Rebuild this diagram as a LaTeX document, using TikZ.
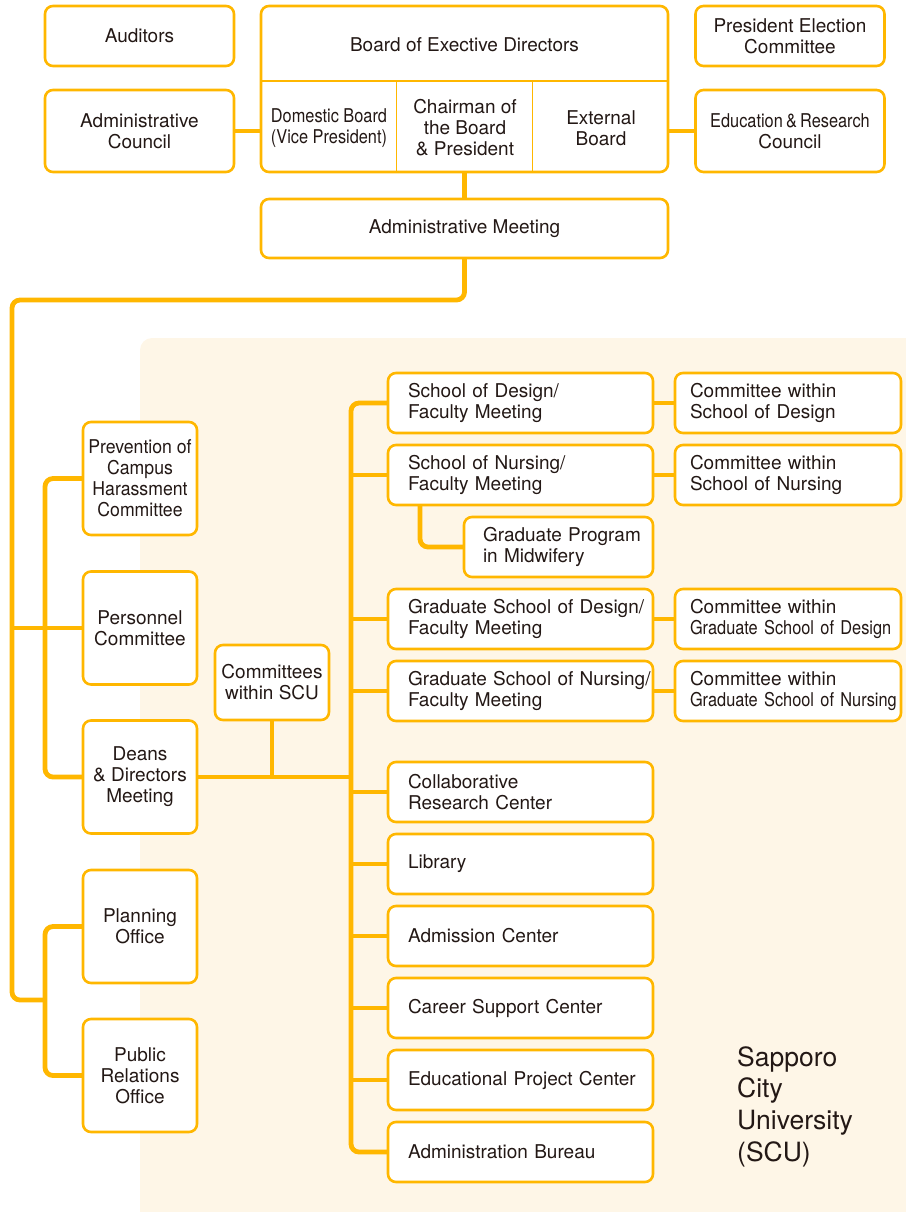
\documentclass[tikz,border=0pt]{standalone}
\usepackage{fontspec}
\setmainfont{TeX Gyre Heros}
\newfontfamily\cnd[FakeStretch=0.86]{TeX Gyre Heros}
\newfontfamily\tight[FakeStretch=0.93]{TeX Gyre Heros}
\usetikzlibrary{calc,positioning}
\definecolor{amber}{RGB}{255,183,0}
\definecolor{cream}{RGB}{254,246,231}
\definecolor{ink}{RGB}{35,24,21}
\newdimen\hdim
\newdimen\wdim
\newdimen\odim
\hdim=60pt
\wdim=265pt
\odim=22pt
\tikzstyle{unit}=[
  draw=amber,
  fill=white,
  font={\fontsize{19}{21}\selectfont},
  inner sep=0pt,
  outer sep=0pt,
  line width=2.6pt,
  rectangle,
  rounded corners=8pt,
  align=center,
  text=ink,
]
\tikzstyle{square}=[
  unit,
  minimum width=114pt,
  minimum height=113pt,
]
\tikzstyle{wide}=[
  unit,
  minimum width=189pt,
]
\tikzstyle{dept}=[
  unit,
  align=left,
  inner xsep=20pt,
  text width=\wdim-40pt,
  minimum height=\hdim,
]
\tikzstyle{sub}=[
  unit,
  align=left,
  inner xsep=15pt,
  text width=196pt,
  minimum height=\hdim,
]
\tikzstyle{boardtext}=[
  align=center,
  font={\fontsize{19}{21}\selectfont},
  text=ink,
]
\tikzstyle{link}=[
  draw=amber,
  line width=4.8pt,
  rounded corners=8pt,
]
\tikzstyle{split}=[
  draw=amber,
  line width=1.6pt,
]
\tikzset{
  node distance=12pt,
}

\begin{document}
\begin{tikzpicture}[x=1pt,y=-1pt]
    \useasboundingbox (0,0) rectangle (905,1212);
    \fill [cream, rounded corners=12pt] (140,338) rectangle (940,1250);
    %%
    \node (auditors) [wide, minimum height=60pt] at (139.5,36) {Auditors};
    \node (council) [wide, minimum height=82pt] at (139.5,131) {Administrative\\Council};
    \node (board) [unit, minimum width=407pt, minimum height=166pt] at (464.5,89) {};
    \node (election) [wide, minimum height=60pt] at (790,36) {President Election\\Committee};
    \node (edu) [wide, minimum height=82pt] at (790,131) {{\cnd Education\,\&\,Research}\\Council};
    \node (meeting) [unit, minimum width=407pt, minimum height=59pt] at (464.5,228.5) {Administrative Meeting};
    %%
    \coordinate (split) at (0,81);
    \coordinate (c1) at ($(board.south west)!1/3!(board.south east)$);
    \coordinate (c2) at ($(board.south west)!2/3!(board.south east)$);
    \draw [split] (board.west |- split) -- (board.east |- split);
    \draw [split] (c1) -- (c1 |- split);
    \draw [split] (c2) -- (c2 |- split);
    \node (title) [boardtext] at (464.5,45) {Board of Exective Directors};
    \node (domestic) [boardtext] at (329,128) {{\cnd Domestic Board}\\{\cnd(Vice President)}};
    \node (chairman) [boardtext] at (465,128) {Chairman of\\the Board\\\& President};
    \node (external) [boardtext] at (601,128) {External\\Board};
    %%
    \node (prevention) [square, font={\tight\fontsize{19}{21}\selectfont}] at (140,478.5) {Prevention of\\Campus\\Harassment\\Committee};
    \node (personnel) [square] at (140,628) {Personnel\\Committee};
    \node (deans) [square] at (140,777) {Deans\\\& Directors\\Meeting};
    \node (planning) [square] at (140,926.5) {Planning\\Office};
    \node (relations) [square] at (140,1075.5) {Public\\Relations\\Office};
    \node (scucomm) [unit, minimum width=114pt, minimum height=75pt] at (272,682.5) {Committees\\within SCU};
    %%
    \node (design) [dept] at (520.5,403) {School of Design/\\Faculty Meeting};
    \node (nursing) [dept, below=of design] {School of Nursing/\\Faculty Meeting};
    \node (midwifery) [dept, text width=151pt, inner xsep=19pt, below=of nursing.south east, anchor=north east] {\mbox{Graduate Program}\\in Midwifery};
    \node (graddesign) [dept, below=84pt of nursing] {\mbox{Graduate School of Design/}\\Faculty Meeting};
    \node (gradnursing) [dept, below=of graddesign] {\mbox{Graduate School of Nursing/}\\Faculty Meeting};
    \node (collab) [dept, below=41pt of gradnursing] {Collaborative\\Research Center};
    \node (library) [dept, below=of collab] {Library};
    \node (admission) [dept, below=of library] {Admission Center};
    \node (career) [dept, below=of admission] {Career Support Center};
    \node (eduproject) [dept, below=of career] {\mbox{Educational Project Center}};
    \node (bureau) [dept, below=of eduproject] {Administration Bureau};
    %%
    \node (designcomm) [sub, right=\odim of design] {Committee within\\School of Design};
    \node (nursingcomm) [sub, right=\odim of nursing] {Committee within\\School of Nursing};
    \node (graddesigncomm) [sub, right=\odim of graddesign] {Committee within\\{\cnd\mbox{Graduate School of Design}}};
    \node (gradnursingcomm) [sub, right=\odim of gradnursing] {Committee within\\{\cnd\mbox{Graduate School of Nursing}}};
    %%
    \node (scu) [anchor=north west, align=left, inner sep=0pt, text=ink,
                 font={\fontsize{26.5}{31.7}\selectfont}] at (737,1046) {Sapporo\\City\\University\\(SCU)};
    %%
    \coordinate (leftbus) at (12,1000);
    \coordinate (trunk) at ($(design.west)+(-37,0)$);
    \draw [link] (council.east) -- (council.east -| board.west);
    \draw [link] (board.east |- edu) -- (edu.west);
    \draw [link] (board) -- (meeting);
    \draw [link] (meeting.south) -- ++(0,42) -| (leftbus) -- ++(33,0);
    \draw [link] (personnel.west -| leftbus) -- (personnel.west);
    \draw [link] (prevention.west) -- ++(-38,0) |- (deans.west);
    \draw [link] (planning.west) -- ++(-38,0) |- (relations.west);
    \draw [link] (deans.east) -- (deans.east -| trunk);
    \draw [link] (scucomm) -- (scucomm |- deans);
    %%
    \draw [link] (design.west) -- (trunk) |- (bureau.west);
    \draw [link] (nursing.west -| trunk) -- (nursing.west);
    \draw [link] (graddesign.west -| trunk) -- (graddesign.west);
    \draw [link] (gradnursing.west -| trunk) -- (gradnursing.west);
    \draw [link] (collab.west -| trunk) -- (collab.west);
    \draw [link] (library.west -| trunk) -- (library.west);
    \draw [link] (admission.west -| trunk) -- (admission.west);
    \draw [link] (career.west -| trunk) -- (career.west);
    \draw [link] (eduproject.west -| trunk) -- (eduproject.west);
    \draw [link] ($(nursing.south west)+(32,0)$) |- (midwifery.west);
    %%
    \draw [link] (design) -- (designcomm);
    \draw [link] (nursing) -- (nursingcomm);
    \draw [link] (graddesign) -- (graddesigncomm);
    \draw [link] (gradnursing) -- (gradnursingcomm);
\end{tikzpicture}
\end{document}
